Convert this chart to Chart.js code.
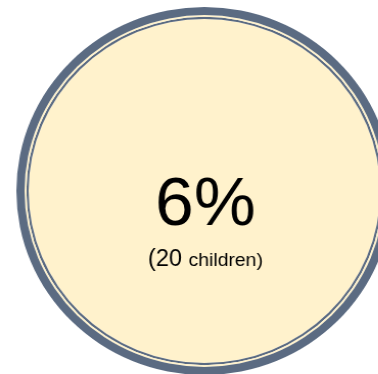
<!DOCTYPE html>
<html>
<head>
<meta charset="utf-8">
<script src="https://cdn.jsdelivr.net/npm/chart.js@4.4.0/dist/chart.umd.min.js"></script>
<style>
	html, body { margin: 0; padding: 0; overflow: hidden; background: #fff; width: 378px; height: 374px; }
	#wrap { position: absolute; left: 0; top: 0; transform-origin: 0 0; transform: scaleX(1.022); }
</style>
</head>
<body>
<div id="wrap"><canvas id="canvas" width="400" height="382"></canvas></div>
<script>
// share of the circle (whole group) and the figures shown in it
var share = [100];
var percent = [6];
var children = [20];
var countWord = 'children';

// rings from outside in: frame, gap, thin line, fill
var rings = ['frame', 'gap', 'line', 'fill'];
var ringColors = ['#5b6b82', '#fff2cc', '#5b6b82', '#fff2cc'];
var ringWeights = [8, 1.8, 2.2, 172];

var centerText = {
	id: 'centerText',
	afterDraw: function(chart) {
		var ctx = chart.ctx;
		var meta = chart.getDatasetMeta(0);
		var x = meta.data[0].x + 1;
		var y = meta.data[0].y;
		ctx.save();
		ctx.fillStyle = '#000';
		ctx.textBaseline = 'alphabetic';
		ctx.textAlign = 'center';
		ctx.font = '68px "Liberation Sans", Arial, sans-serif';
		ctx.fillText(percent[0] + '%', x, y + 34);

		var big = '23px "Liberation Sans", Arial, sans-serif';
		var small = '19px "Liberation Sans", Arial, sans-serif';
		var p1 = '(' + children[0] + ' ';
		var p2 = countWord + ')';
		ctx.font = big;
		var w1 = ctx.measureText(p1).width;
		ctx.font = small;
		var w2 = ctx.measureText(p2).width;
		var left = x - (w1 + w2) / 2;
		ctx.textAlign = 'left';
		ctx.font = big;
		ctx.fillText(p1, left, y + 75);
		ctx.font = small;
		ctx.fillText(p2, left + w1, y + 75);
		ctx.restore();
	}
};

var datasets = [];
for (var i = 0; i < rings.length; i++) {
	datasets.push({
		label: rings[i],
		data: share,
		backgroundColor: ringColors[i],
		borderWidth: 0,
		weight: ringWeights[i]
	});
}

window.onload = function() {
	var ctx = document.getElementById('canvas');
	window.myCircle = new Chart(ctx, {
		type: 'doughnut',
		data: {
			labels: ['group'],
			datasets: datasets
		},
		options: {
			responsive: false,
			animation: false,
			cutout: 0,
			radius: 184,
			layout: { padding: 0 },
			plugins: {
				legend: { display: false },
				tooltip: { enabled: false }
			}
		},
		plugins: [centerText]
	});
};
</script>
</body>
</html>
